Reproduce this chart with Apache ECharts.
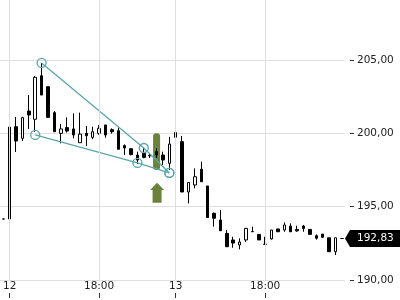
<!DOCTYPE html>
<html>
<head>
<meta charset="utf-8">
<script src="https://cdn.jsdelivr.net/npm/echarts@6/dist/echarts.min.js"></script>
<style>html,body{margin:0;padding:0;background:#fff;}#c{width:400px;height:300px;}</style>
</head>
<body>
<div id="c"></div>
<script>
// ---- data ----
const opens  = [194.16,194.16,200.45,199.66,201.52,200.96,203.93,203.18,201.41,200.00,200.39,200.30,199.36,200.00,199.73,200.00,200.57,200.25,200.18,199.16,198.95,198.52,198.64,198.50,198.75,198.52,197.96,199.73,199.43,196.00,196.48,197.55,196.41,194.55,194.09,193.18,192.73,192.39,192.73,193.31,193.11,192.44,192.80,193.48,193.41,193.68,193.45,193.68,193.45,193.02,193.13,192.88,191.93,192.83];
const closes = [194.16,200.43,199.48,201.07,201.25,203.82,202.61,201.09,200.11,200.30,200.16,199.89,199.95,199.84,200.11,200.34,199.89,200.11,198.91,199.00,198.55,198.18,198.36,198.47,198.52,198.18,199.27,200.06,196.00,196.65,197.04,196.70,194.26,194.21,193.36,192.27,192.52,192.59,193.52,193.29,192.73,192.43,193.41,193.29,193.75,193.29,193.35,193.52,193.11,192.85,192.91,191.93,192.88,192.83];
const lows   = [194.16,193.27,198.73,199.48,200.30,200.10,202.61,201.09,200.11,199.32,200.05,199.66,199.36,199.14,199.60,199.90,199.70,199.98,198.91,198.52,198.50,197.90,198.30,198.32,198.32,197.84,197.50,197.96,196.00,195.22,196.25,196.70,194.26,193.64,193.36,192.27,192.20,192.09,192.60,193.29,192.73,192.43,192.75,193.29,193.29,193.29,193.29,193.29,193.11,192.75,192.91,191.93,191.70,192.83];
const highs  = [194.16,201.39,201.11,201.13,202.61,203.90,204.80,203.18,201.52,200.64,201.09,201.36,201.41,200.50,200.45,200.57,200.57,200.34,200.39,199.25,199.00,198.75,198.98,198.66,198.98,198.75,199.76,200.50,199.82,196.65,197.61,198.07,196.41,194.60,194.77,193.41,192.95,192.84,193.55,193.64,193.11,192.95,193.41,193.48,193.93,193.86,193.70,193.75,193.45,193.11,193.13,192.88,192.88,192.83];

const labelIndex = [1, 15, 27, 41];
const labelText  = ['12', '18:00', '13', '18:00'];
const yTickValues = [190, 195, 200, 205];

const upperLine = [[6, 204.80], [22, 199.00], [26, 197.30]];
const lowerLine = [[5, 199.89], [21, 197.98], [26, 197.30]];

const greenBar   = [[24, 197.5, 200.0]];          // index, bottom, top
const greenArrow = [[24, 195.27, 196.14, 196.63]]; // index, bottom, head base, tip
const lastPrice  = 192.83;

// ---- build ----
const categories = opens.map((_, i) => {
  const k = labelIndex.indexOf(i);
  return k >= 0 ? labelText[k] : '';
});
const candles = opens.map((o, i) => [o, closes[i], lows[i], highs[i]]);

const Y_MIN = 188.773, Y_MAX = 209.091;
const GREEN = '#6b823c';
const TEAL = '#5aa5ab';
const FONT = 'DejaVu Sans';
const fmt = v => v.toFixed(2).replace('.', ',');

const chart = echarts.init(document.getElementById('c'), null, {renderer: 'canvas'});
chart.setOption({
  animation: false,
  backgroundColor: '#fff',
  grid: {left: 0, right: 55, top: 0, bottom: 2, containLabel: false},
  xAxis: {
    type: 'category',
    data: categories,
    boundaryGap: true,
    axisLine: {show: false},
    axisTick: {show: true, inside: true, length: 5, alignWithLabel: true,
      interval: (i, v) => v !== '', lineStyle: {color: '#333', width: 1}},
    axisLabel: {show: true, inside: true, margin: 6, interval: (i, v) => v !== '',
      color: '#222', fontFamily: FONT, fontSize: 10.5},
    splitLine: {show: false}
  },
  yAxis: {
    type: 'value',
    position: 'right',
    min: Y_MIN, max: Y_MAX,
    offset: 5,
    axisLine: {show: false},
    axisTick: {show: true, length: 4, customValues: yTickValues, lineStyle: {color: '#333'}},
    axisLabel: {margin: 7, customValues: yTickValues, formatter: v => fmt(v),
      color: '#222', fontFamily: FONT, fontSize: 10.5},
    splitLine: {show: true, lineStyle: {color: '#dedede', width: 1}}
  },
  series: [
    {
      type: 'line', data: [], z: 1, silent: true,
      markLine: {
        silent: true, symbol: ['none', 'none'], animation: false,
        label: {show: false},
        lineStyle: {color: '#dedede', width: 1, type: 'solid'},
        data: labelIndex.map(i => [{coord: [i, Y_MAX]}, {coord: [i, 189.93]}])
      }
    },
    {
      type: 'custom', z: 1, silent: true, clip: false,
      data: greenBar,
      renderItem: (params, api) => {
        const top = api.coord([api.value(0), api.value(2)]);
        const bot = api.coord([api.value(0), api.value(1)]);
        return {type: 'rect', shape: {x: top[0] - 3.5, y: top[1], width: 7, height: bot[1] - top[1], r: 3},
          style: {fill: GREEN}};
      }
    },
    {
      type: 'custom', z: 1, silent: true, clip: false,
      data: greenArrow,
      renderItem: (params, api) => {
        const x = api.value(0);
        const b = api.coord([x, api.value(1)]);
        const hb = api.coord([x, api.value(2)]);
        const t = api.coord([x, api.value(3)]);
        const cx = t[0] + 0.5;
        return {type: 'polygon', shape: {points: [
          [cx, t[1]], [cx + 7, hb[1]], [cx + 4.5, hb[1]], [cx + 4.5, b[1]],
          [cx - 4.5, b[1]], [cx - 4.5, hb[1]], [cx - 7, hb[1]]]},
          style: {fill: GREEN}};
      }
    },
    {
      type: 'candlestick',
      data: candles,
      barWidth: 3,
      z: 2,
      itemStyle: {color: '#fff', color0: '#000', borderColor: '#000', borderColor0: '#000',
        borderColorDoji: '#000', borderWidth: 1}
    },
    {
      type: 'line', data: upperLine, z: 3, silent: true,
      lineStyle: {color: TEAL, width: 1.3},
      symbol: 'circle', symbolSize: 9, showSymbol: true, showAllSymbol: true,
      itemStyle: {color: 'rgba(255,255,255,0)', borderColor: TEAL, borderWidth: 1.3}
    },
    {
      type: 'line', data: lowerLine, z: 3, silent: true,
      lineStyle: {color: TEAL, width: 1.3},
      symbol: 'circle', symbolSize: 9, showSymbol: true, showAllSymbol: true,
      itemStyle: {color: 'rgba(255,255,255,0)', borderColor: TEAL, borderWidth: 1.3}
    },
    {
      type: 'custom', z: 5, silent: true, clip: false,
      data: [[opens.length - 1, lastPrice]],
      renderItem: (params, api) => {
        const p = api.coord([api.value(0), api.value(1)]);
        const bw = api.size([1, 0])[0];
        const xr = p[0] + bw / 2;
        const y = p[1];
        return {type: 'group', children: [
          {type: 'polygon', shape: {points: [[xr, y], [xr + 5, y - 8.5], [xr + 70, y - 8.5], [xr + 70, y + 8.5], [xr + 5, y + 8.5]]},
            style: {fill: '#000'}},
          {type: 'text', style: {x: xr + 12, y: y, text: fmt(api.value(1)), fill: '#fff',
            font: '10.5px "DejaVu Sans"', verticalAlign: 'middle', align: 'left'}}
        ]};
      }
    }
  ]
});
</script>
</body>
</html>
